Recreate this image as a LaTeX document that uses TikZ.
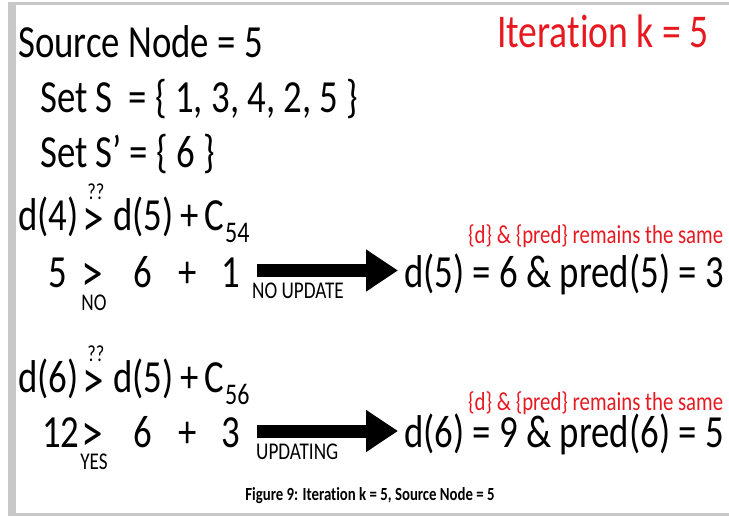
\documentclass[tikz,border=0pt]{standalone}
\usepackage{fontspec}
\setmainfont{Carlito}[FakeStretch=0.8,Ligatures=NoCommon]
\usetikzlibrary{arrows.meta}
\definecolor{redtxt}{RGB}{232,24,32}
\definecolor{framegray}{RGB}{200,200,200}
\begin{document}
\begin{tikzpicture}[x=1pt,y=-1pt,
  txt/.style={inner sep=0,anchor=base west,font=\fontsize{46}{52}\selectfont},
  gtsign/.style={inner sep=0,anchor=base west,font=\fontsize{54}{60}\selectfont,text height=0.46em,text depth=-0.15em},
  sub/.style={inner sep=0,anchor=base west,font=\fontsize{30}{34}\selectfont},
  tiny/.style={inner sep=0,anchor=base,font=\fontsize{23}{26}\selectfont,text height=0.62em,text depth=0pt},
  note/.style={inner sep=0,anchor=base west,font=\fontsize{26}{30}\selectfont,text=redtxt},
  lab/.style={inner sep=0,anchor=base west,font=\fontsize{24}{28}\selectfont,text height=0.62em,text depth=0pt},
  bigarrow/.style={line width=13pt,-{Triangle[length=32pt,width=40pt]}}]
\useasboundingbox (0,0) rectangle (729,517);
% frame
\fill[framegray] (8,2) rectangle (16,516);
\fill[framegray] (8,2) rectangle (729,5);
\fill[framegray] (8,513) rectangle (729,516);
% header
\node[txt] (src) at (18,57) {Source Node = 5};
\node[txt,text=redtxt,font=\fontsize{47}{52}\selectfont] (iter) at (497,47) {Iteration k = 5};
\node[txt] (setS) at (40,112) {Set S \,= \{ 1, 3, 4, 2, 5 \}};
\node[txt] (setSp) at (40,167) {Set S’ = \{ 6 \}};
% block 1
\node[txt] (d4) at (18,230) {d(4)};
\node[gtsign] (gt1) at (82,236) {>};
\node[tiny] (q1) at (96,199) {??};
\node[txt] (rhs1) at (113,230) {d(5)};
\node[txt] (plA) at (180,230) {+};
\node[txt] (cA) at (204,230) {C};
\node[sub] (s54) at (225,242) {54};
\node[txt] (v5) at (48,287) {5};
\node[gtsign] (gt2) at (81,291) {>};
\node[lab,anchor=base] (no) at (94,310) {NO};
\node[txt] (v6a) at (133,287) {6};
\node[txt] (pl1) at (178,287) {+};
\node[txt] (v1) at (221,287) {1};
\node[lab] (noup) at (252,298) {NO UPDATE};
\coordinate (a1s) at (257,270.5);
\coordinate (a1e) at (398,270.5);
\draw[bigarrow] (a1s) -- (a1e);
\node[txt] (res1) at (404,287) {d(5) = 6 \& pred(5) = 3};
\node[note] (n1) at (468,243) {\{d\} \& \{pred\} remains the same};
% block 2
\node[txt] (d6) at (18,392) {d(6)};
\node[gtsign] (gt3) at (82,398) {>};
\node[tiny] (q2) at (96,361) {??};
\node[txt] (rhs2) at (113,392) {d(5)};
\node[txt] (plB) at (180,392) {+};
\node[txt] (cB) at (204,392) {C};
\node[sub] (s56) at (225,404) {56};
\node[txt] (v12) at (42,447) {12};
\node[gtsign] (gt4) at (81,451) {>};
\node[lab,anchor=base] (yes) at (94,469) {YES};
\node[txt] (v6b) at (133,447) {6};
\node[txt] (pl2) at (178,447) {+};
\node[txt] (v3) at (221,447) {3};
\node[lab] (upd) at (256,459) {UPDATING};
\coordinate (a2s) at (257,431);
\coordinate (a2e) at (398,431);
\draw[bigarrow] (a2s) -- (a2e);
\node[txt] (res2) at (404,447) {d(6) = 9 \& pred(6) = 5};
\node[note] (n2) at (468,410) {\{d\} \& \{pred\} remains the same};
% caption
\node[inner sep=0,anchor=base,font=\bfseries\fontsize{18.5}{22}\selectfont] (cap) at (370,500) {Figure 9: Iteration k = 5, Source Node = 5};
\end{tikzpicture}
\end{document}
